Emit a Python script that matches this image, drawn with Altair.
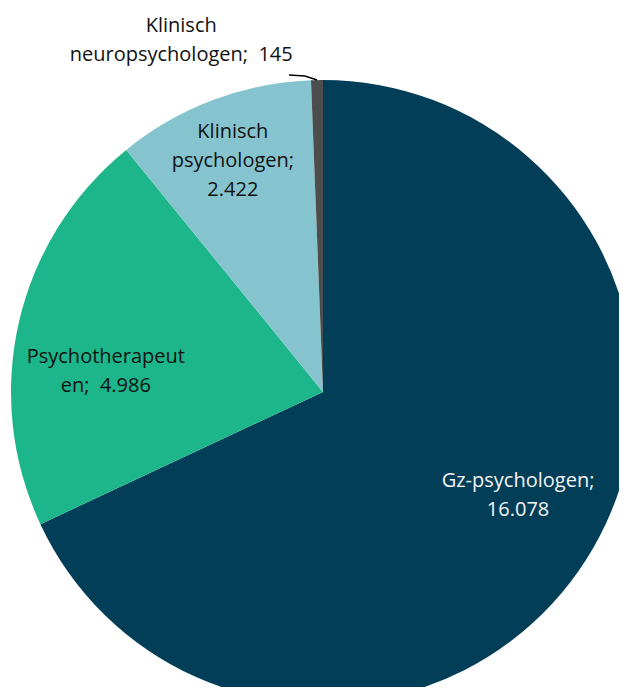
import altair as alt
import pandas as pd

categories = ["Gz-psychologen", "Psychotherapeuten", "Klinisch psychologen", "Klinisch neuropsychologen"]
values = [16078, 4986, 2422, 145]
label_templates = [
    "Gz-psychologen;\n{v}",
    "Psychotherapeut\nen;\u00a0 {v}",
    "Klinisch\npsychologen;\n{v}",
    "Klinisch\nneuropsychologen;\u00a0 {v}",
]
colors = ["#023E58", "#1DB68A", "#85C4CF", "#4D4D4D"]
text_colors = ["#F4F4F4", "#111111", "#111111", "#111111"]
# label placement style: (radius, dx, dy)
label_style = [(230, 1, -34.5), (230, 7, 16.5), (230, -9, -45), (352, -135, -14.5)]


def nl(v):
    return f"{v:,}".replace(",", ".")


df = pd.DataFrame({
    "idx": list(range(len(categories))),
    "category": categories,
    "value": values,
    "label": [t.format(v=nl(v)) for t, v in zip(label_templates, values)],
})

CX, CY, R = 315, 384, 312

base = alt.Chart(df).encode(
    theta=alt.Theta("value:Q", stack=True),
    order=alt.Order("idx:Q"),
)

pie = base.mark_arc(radius=R, clip=True).encode(
    x=alt.value(CX),
    y=alt.value(CY),
    color=alt.Color("category:N", scale=alt.Scale(domain=categories, range=colors), legend=None, sort=categories),
)

layers = [pie]
for i, (rad, dx, dy) in enumerate(label_style):
    t = base.transform_calculate(
        t=f"datum.idx == {i} ? datum.label : ''"
    ).mark_text(
        radius=rad, dx=dx, dy=dy, font="Open Sans", fontSize=20, lineHeight=29,
        lineBreak="\n", align="center", baseline="middle", color=text_colors[i],
    ).encode(
        x=alt.value(CX),
        y=alt.value(CY),
        text="t:N",
    )
    layers.append(t)

lead = pd.DataFrame({"k": [0]})
seg1 = alt.Chart(lead).mark_rule(color="#000000", strokeWidth=1.5).encode(
    x=alt.value(281), y=alt.value(67), x2=alt.value(297), y2=alt.value(68))
seg2 = alt.Chart(lead).mark_rule(color="#000000", strokeWidth=1.5).encode(
    x=alt.value(297), y=alt.value(68), x2=alt.value(309), y2=alt.value(72))
layers += [seg1, seg2]

chart = alt.layer(*layers).properties(
    width=611, height=679, padding=0, autosize="none"
).configure_view(strokeWidth=0)

chart.save("out.html", embed_options={"renderer": "svg", "actions": False})
